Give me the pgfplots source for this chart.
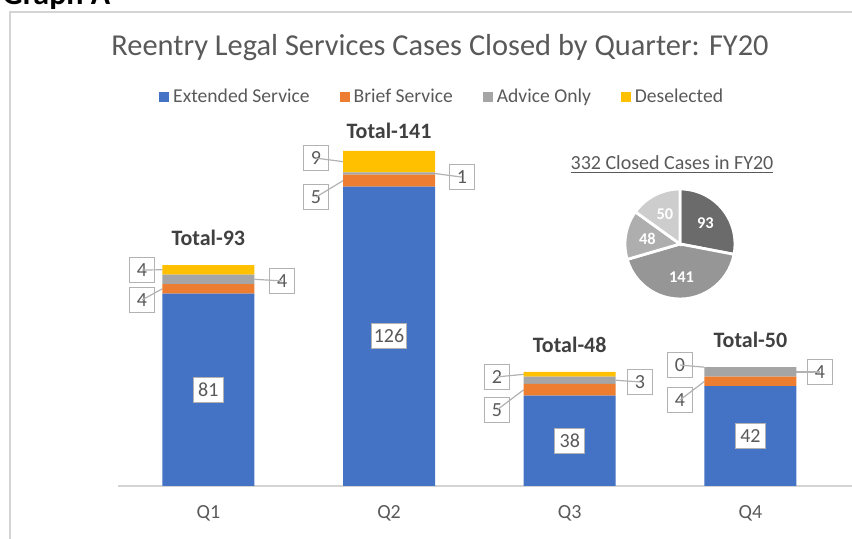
\documentclass[border=0pt]{standalone}
\usepackage{pgfplots}
\pgfplotsset{compat=1.18}
\usepackage{fontspec}
\setmainfont{Carlito}
\usetikzlibrary{calc}
\definecolor{cExt}{HTML}{4472C4}
\definecolor{cBrief}{HTML}{ED7D31}
\definecolor{cAdv}{HTML}{A5A5A5}
\definecolor{cDes}{HTML}{FFC000}
\definecolor{txt}{HTML}{595959}
\definecolor{dark}{HTML}{404040}
\definecolor{pieA}{HTML}{6B6B6B}
\definecolor{pieB}{HTML}{969696}
\definecolor{pieC}{HTML}{AEAEAE}
\definecolor{pieD}{HTML}{CDCDCD}
\definecolor{frame}{HTML}{D4D4D4}
\begin{document}
\begin{tikzpicture}[
  callout/.style={draw=black!30, fill=white, text=txt, font=\fontsize{10}{12}\selectfont, minimum width=12.5pt, minimum height=12.5pt, inner sep=1pt, line width=0.6pt},
  inlab/.style={callout, minimum width=15pt},
  lead/.style={draw=black!30, line width=0.6pt},
  tot/.style={font=\bfseries\fontsize{11}{13}\selectfont, text=dark}
]
\useasboundingbox (0,0) rectangle (426pt,269.5pt);
\clip (0,0) rectangle (426pt,269.5pt);
\node[anchor=base west, font=\bfseries\fontsize{16}{18}\selectfont, inner sep=0] at (1pt,267pt) {Graph A};
\draw[frame, line width=1pt] (5pt,-5pt) -- (5pt,263.5pt) -- (440pt,263.5pt);
\node[text=txt, font=\fontsize{15.2}{18}\selectfont] at (220pt,245.5pt) {Reentry Legal Services Cases Closed by Quarter: FY20};
\begin{axis}[at={(59pt,26.5pt)}, anchor=south west, scale only axis, width=367pt, height=178.2pt,
  xmin=-0.5, xmax=3.562, ymin=0, ymax=150,
  ybar stacked, bar width=46pt,
  axis y line=none, ytick=\empty, axis x line*=bottom, x axis line style={draw=frame, line width=0.8pt, -},
  xtick={0,1,2,3}, xticklabels={Q1,Q2,Q3,Q4}, xtick style={draw=none},
  xticklabel style={text=txt, font=\fontsize{10}{12}\selectfont, yshift=-6pt},
  legend columns=4,
  legend style={at={(0.443,1.0915)}, anchor=center, draw=none, fill=none, font=\fontsize{9.8}{12}\selectfont, text=txt, /tikz/every even column/.append style={column sep=13pt}},
  legend image code/.code={\fill[#1] (0pt,-2.5pt) rectangle (5pt,2.5pt);},
  clip=false,
]
\addplot[fill=cExt, draw=none] coordinates {(0,81) (1,126) (2,38) (3,42)};
\addplot[fill=cBrief, draw=none] coordinates {(0,4) (1,5) (2,5) (3,4)};
\addplot[fill=cAdv, draw=none] coordinates {(0,4) (1,1) (2,3) (3,4)};
\addplot[fill=cDes, draw=none] coordinates {(0,4) (1,9) (2,2) (3,0)};
\legend{Extended Service, Brief Service, Advice Only, Deselected}
% inner label anchors
\coordinate (i1) at (axis cs:0,40.5);
\coordinate (i2) at (axis cs:1,63);
\coordinate (i3) at (axis cs:2,19);
\coordinate (i4) at (axis cs:3,21);
% totals
\node[tot] at (axis cs:0,104.4) {Total-93};
\node[tot] at (axis cs:1,149.4) {Total-141};
\node[tot] at (axis cs:2,59.3) {Total-48};
\node[tot] at (axis cs:3,61.4) {Total-50};
% callouts Q1
\draw[lead] (axis cs:-0.367,90.9) -- (axis cs:-0.2546,91);
\node[callout] at (axis cs:-0.367,90.9) {4};
\draw[lead] (axis cs:-0.367,78.3) -- (axis cs:-0.2546,83);
\node[callout] at (axis cs:-0.367,78.3) {4};
\draw[lead] (axis cs:0.408,86.3) -- (axis cs:0.2546,87);
\node[callout] at (axis cs:0.408,86.3) {4};
% Q2
\draw[lead] (axis cs:0.596,138) -- (axis cs:0.7454,136.5);
\node[callout] at (axis cs:0.596,138) {9};
\draw[lead] (axis cs:0.596,121.6) -- (axis cs:0.7454,128.5);
\node[callout] at (axis cs:0.596,121.6) {5};
\draw[lead] (axis cs:1.404,130) -- (axis cs:1.2546,131.5);
\node[callout] at (axis cs:1.404,130) {1};
% Q3
\draw[lead] (axis cs:1.597,45.9) -- (axis cs:1.7454,47);
\node[callout] at (axis cs:1.597,45.9) {2};
\draw[lead] (axis cs:1.597,32) -- (axis cs:1.7454,40.5);
\node[callout] at (axis cs:1.597,32) {5};
\draw[lead] (axis cs:2.389,43.8) -- (axis cs:2.2546,44.5);
\node[callout] at (axis cs:2.389,43.8) {3};
% Q4
\draw[lead] (axis cs:2.610,50.9) -- (axis cs:2.7454,50);
\node[callout] at (axis cs:2.610,50.9) {0};
\draw[lead] (axis cs:2.610,36.2) -- (axis cs:2.7454,44);
\node[callout] at (axis cs:2.610,36.2) {4};
\draw[lead] (axis cs:3.385,48) -- (axis cs:3.2546,48);
\node[callout] at (axis cs:3.385,48) {4};
\end{axis}
\node[inlab] at (i1) {81};
\node[inlab] at (i2) {126};
\node[inlab] at (i3) {38};
\node[inlab] at (i4) {42};
% pie
\node[text=txt, font=\fontsize{10}{12}\selectfont] at (336pt,187pt) {\underline{332 Closed Cases in FY20}};
\xdef\angstart{90}
\foreach \v/\c in {93/pieA,141/pieB,48/pieC,50/pieD}{
  \pgfmathsetmacro\angend{\angstart-\v/332*360}
  \pgfmathsetmacro\angmid{(\angstart+\angend)/2}
  \fill[\c,draw=white,line width=1.4pt] (340pt,147.5pt) -- ++(\angstart:27.5pt) arc[start angle=\angstart,end angle=\angend,radius=27.5pt] -- cycle;
  \node[white,font=\bfseries\fontsize{8.2}{10}\selectfont] at ($(340pt,147.5pt)+(\angmid:16.5pt)$) {\v};
  \xdef\angstart{\angend}
}
\end{tikzpicture}
\end{document}
